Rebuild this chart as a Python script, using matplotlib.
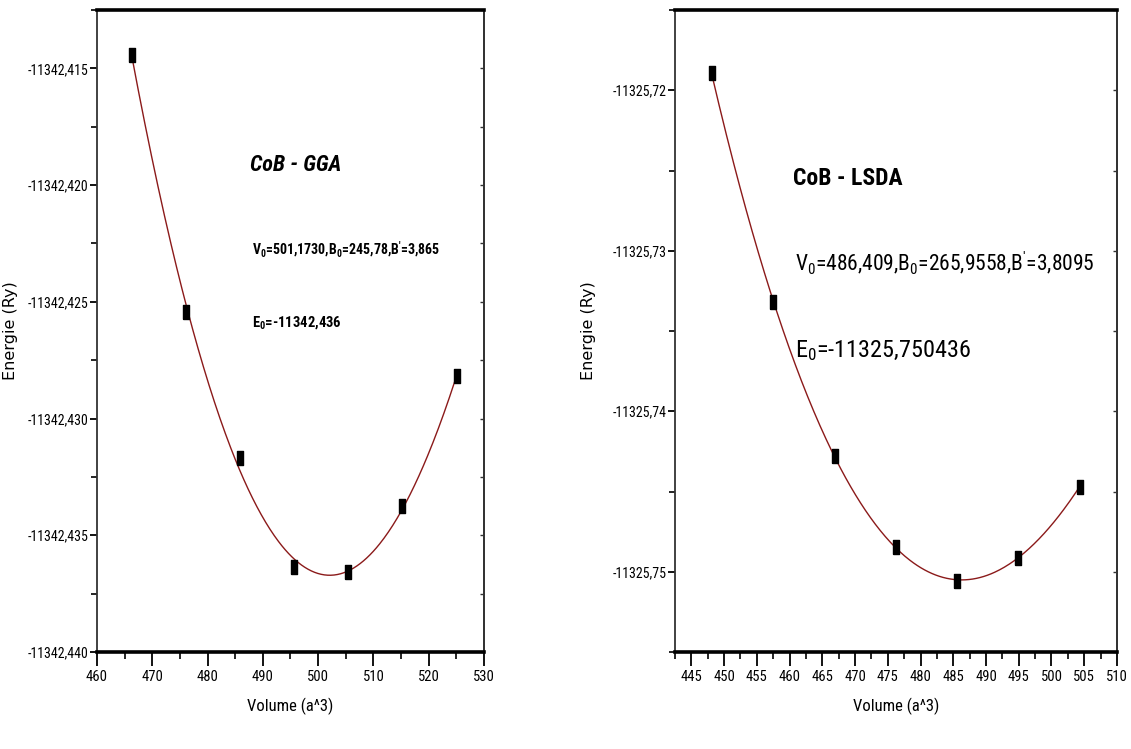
import numpy as np
import matplotlib
matplotlib.use("Agg")
import matplotlib.pyplot as plt
import matplotlib.font_manager as fm
from matplotlib.ticker import MultipleLocator, FuncFormatter, NullFormatter

# ---- data ----
vol_gga = [466.3, 476.1, 485.9, 495.6, 505.4, 515.2, 525.1]
e_gga = [-11342.41442, -11342.42544, -11342.43169, -11342.43638,
         -11342.43657, -11342.43374, -11342.42818]

vol_lsda = [448.1, 457.5, 466.9, 476.2, 485.6, 494.9, 504.3]
e_lsda = [-11325.71894, -11325.73319, -11325.74281, -11325.74844,
          -11325.75056, -11325.74913, -11325.74469]

title_gga = "CoB - GGA"
title_lsda = "CoB - LSDA"
params_gga = r"V$_0$=501,1730,B$_0$=245,78,B$^{\prime}$=3,865"
e0_gga = r"E$_0$=-11342,436"
params_lsda = r"V$_0$=486,409,B$_0$=265,9558,B$^{\prime}$=3,8095"
e0_lsda = r"E$_0$=-11325,750436"

# ---- pick a narrow font if one is installed ----
names = {f.name for f in fm.fontManager.ttflist}
narrow = None
for cand in ['Liberation Sans Narrow', 'Arial Narrow', 'Roboto Condensed',
             'Open Sans Condensed', 'DejaVu Sans Condensed', 'Noto Sans Condensed']:
    if cand in names:
        narrow = cand
        break
stretch = 'normal'
if narrow is None:
    cond = [f for f in fm.fontManager.ttflist
            if f.name in ('DejaVu Sans', 'Noto Sans', 'Open Sans', 'Roboto')
            and str(f.stretch) in ('condensed', 'semi-condensed', '75', '87.5')]
    if cond:
        narrow = cond[0].name
        stretch = 'condensed'
if narrow is None:
    narrow = 'Liberation Sans'
    k = 0.84
else:
    k = 1.0

NARROW = [narrow, 'DejaVu Sans']
plt.rcParams['font.family'] = NARROW
plt.rcParams['font.stretch'] = stretch
plt.rcParams['mathtext.default'] = 'regular'
wide_fp = fm.FontProperties(family='DejaVu Sans', stretch='normal', size=11.5)

fig = plt.figure(figsize=(11.31, 7.49), dpi=100)
axL = fig.add_axes([0.0858, 0.1295, 0.3421, 0.8571])
axR = fig.add_axes([0.5968, 0.1295, 0.3908, 0.8571])

curve_color = '#8b1a1a'
marker_verts = [(-0.42, -1), (0.42, -1), (0.42, 1), (-0.42, 1), (-0.42, -1)]


def fit_curve(v, e):
    v = np.asarray(v)
    e = np.asarray(e)
    e0 = e.mean()
    coef = np.polyfit(v - v.mean(), e - e0, 3)
    vv = np.linspace(v.min(), v.max(), 300)
    return vv, np.polyval(coef, vv - v.mean()) + e0


def style(ax, xlim, ylim, xmaj, xmin, ymaj, ymin, ydec):
    ax.set_xlim(*xlim)
    ax.set_ylim(*ylim)
    ax.xaxis.set_major_locator(MultipleLocator(xmaj))
    ax.xaxis.set_minor_locator(MultipleLocator(xmin))
    ax.yaxis.set_major_locator(MultipleLocator(ymaj))
    ax.yaxis.set_minor_locator(MultipleLocator(ymin))
    ax.yaxis.set_major_formatter(FuncFormatter(lambda y, p: f"{y:.{ydec}f}".replace('.', ',')))
    ax.xaxis.set_major_formatter(FuncFormatter(lambda x, p: f"{x:.0f}"))
    for s in ['top', 'bottom']:
        ax.spines[s].set_linewidth(2.6)
        ax.spines[s].set_color('black')
    for s in ['left', 'right']:
        ax.spines[s].set_linewidth(1.3)
        ax.spines[s].set_color('#333333')
    ax.tick_params(axis='x', which='major', direction='out', length=10, width=1.3,
                   labelsize=10.5 * k, pad=3, bottom=True, top=False)
    ax.tick_params(axis='x', which='minor', direction='out', length=5, width=1.2,
                   bottom=True, top=False)
    ax.tick_params(axis='y', which='major', direction='out', length=5, width=1.3,
                   labelsize=10 * k, pad=1, left=True, right=False)
    ax.tick_params(axis='y', which='minor', direction='out', length=4, width=1.2,
                   left=True, right=False)
    # small inward ticks on the right spine
    sec = ax.secondary_yaxis('right')
    sec.yaxis.set_major_locator(MultipleLocator(ymaj))
    sec.yaxis.set_minor_locator(MultipleLocator(ymin))
    sec.yaxis.set_major_formatter(NullFormatter())
    sec.tick_params(axis='y', which='both', direction='in', length=3, width=1.0,
                    colors='#333333')
    sec.spines['right'].set_linewidth(1.3)
    sec.spines['right'].set_color('#333333')
    ax.set_xlabel("Volume (a^3)", fontsize=12 * k, labelpad=10)
    ax.set_ylabel("Energie (Ry)", fontproperties=wide_fp)


# left panel
vv, ee = fit_curve(vol_gga, e_gga)
axL.plot(vv, ee, color=curve_color, lw=1.0, zorder=2)
axL.plot(vol_gga, e_gga, linestyle='none', marker=marker_verts, markersize=10,
         color='black', zorder=3)
style(axL, (460, 530), (-11342.440, -11342.4125), 10, 5, 0.005, 0.0025, 3)
axL.yaxis.set_label_coords(-0.205, 0.5)
axL.text(0.395, 0.758, title_gga, transform=axL.transAxes, fontsize=16 * k,
         fontweight='bold', fontstyle='italic', va='center', ha='left')
axL.text(0.40, 0.628, params_gga, transform=axL.transAxes, fontsize=10 * k,
         fontweight='bold', va='center', ha='left')
axL.text(0.40, 0.513, e0_gga, transform=axL.transAxes, fontsize=10.5 * k,
         fontweight='bold', va='center', ha='left')

# right panel
vv, ee = fit_curve(vol_lsda, e_lsda)
axR.plot(vv, ee, color=curve_color, lw=1.0, zorder=2)
axR.plot(vol_lsda, e_lsda, linestyle='none', marker=marker_verts, markersize=10,
         color='black', zorder=3)
style(axR, (442.5, 510), (-11325.755, -11325.715), 5, 2.5, 0.01, 0.005, 2)
axR.yaxis.set_label_coords(-0.178, 0.5)
axR.text(0.267, 0.738, title_lsda, transform=axR.transAxes, fontsize=17 * k,
         fontweight='bold', va='center', ha='left')
axR.text(0.271, 0.606, params_lsda, transform=axR.transAxes, fontsize=15.5 * k,
         va='center', ha='left')
axR.text(0.271, 0.47, e0_lsda, transform=axR.transAxes, fontsize=17.5 * k,
         va='center', ha='left')

fig.savefig("out.png", dpi=100)
